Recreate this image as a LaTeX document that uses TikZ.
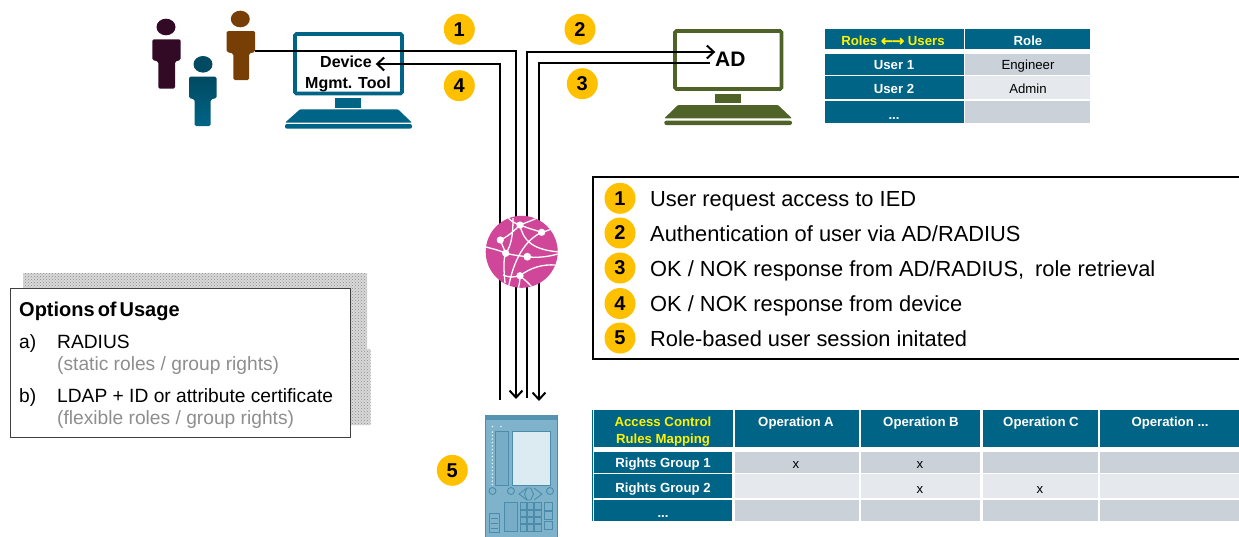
\documentclass[tikz,border=0pt]{standalone}
\usepackage{fontspec}
\setmainfont{Liberation Sans}
\newfontfamily\symfont[FakeBold=2]{DejaVu Sans}
\usetikzlibrary{arrows.meta,patterns,shapes.geometric}
\definecolor{teal0}{HTML}{006487}
\definecolor{tealtop}{HTML}{014A62}
\definecolor{brownP}{HTML}{773F06}
\definecolor{plumP}{HTML}{330A26}
\definecolor{oliveM}{HTML}{4F6228}
\definecolor{amber}{HTML}{FFC000}
\definecolor{pinkG}{HTML}{D0479A}
\definecolor{cellA}{HTML}{CAD1D8}
\definecolor{cellB}{HTML}{E5E8EC}
\definecolor{grayT}{HTML}{8E8E8E}
\definecolor{devA}{HTML}{7FB3CB}
\definecolor{devB}{HTML}{4A8CAA}
\definecolor{devC}{HTML}{DCEAF2}
\newcommand\fs[1]{\fontsize{#1}{#1}\selectfont}
\tikzset{
  wire/.style={line width=2pt,black},
  wirearrow/.style={wire,-{Straight Barb[length=7pt,width=13pt,line width=2pt]}},
  badge/.style={circle,fill=amber,minimum size=31pt,inner sep=0pt,font=\fs{20}\bfseries},
  thead/.style={anchor=mid,inner sep=0pt,text=white,font=\fs{13.2}\bfseries},
  tyellow/.style={thead,text=yellow},
  tbody/.style={anchor=mid,inner sep=0pt,text=black,font=\fs{13.2}},
  legtext/.style={anchor=mid west,inner sep=0pt,font=\fs{21.85}},
  opttext/.style={anchor=mid west,inner sep=0pt,font=\fs{19.2}},
  optgray/.style={opttext,text=grayT},
  devline/.style={draw=devB,line width=0.9pt},
}
% name, x0, y0, x1, y1, fill colour
\newcommand\cell[6]{\fill[#6] (#2,#3) rectangle (#4,#5); \coordinate (#1) at ({(#2+#4)/2},{(#3+#5)/2});}
\begin{document}
\begin{tikzpicture}[x=1pt,y=-1pt]
\useasboundingbox (0,0) rectangle (1239,536);

% people
\fill[plumP] (166,27) ellipse (9.5 and 8.3);
\fill[plumP,rounded corners=1.5pt] (152.3,39.3) -- (180.7,39.3) -- (180.7,60) -- (175,61.5) -- (175,88.7) -- (158.3,88.7) -- (158.3,61.5) -- (152.3,60) -- cycle;
\fill[tealtop] (203,64.3) ellipse (9.5 and 8.3);
\shade[top color=tealtop,bottom color=teal0,rounded corners=1.5pt] (189,76.7) -- (216.7,76.7) -- (216.7,98) -- (210.7,99.5) -- (210.7,126) -- (194.7,126) -- (194.7,99.5) -- (189,98) -- cycle;
\fill[brownP] (240.3,19) ellipse (9.5 and 8.3);
\fill[brownP,rounded corners=1.5pt] (226.7,31) -- (255,31) -- (255,52) -- (249,53.5) -- (249,80) -- (233.3,80) -- (233.3,53.5) -- (226.7,52) -- cycle;

% device management tool monitor
\draw[teal0,line width=3.6pt,rounded corners=1.5pt] (295,34) rectangle (402,93.5);
\fill[teal0] (335,97.7) rectangle (361,107.7);
\fill[teal0,rounded corners=1pt] (300,109.3) -- (398,109.3) -- (412,122.7) -- (285,122.7) -- cycle;
\fill[teal0,rounded corners=2pt] (285,124) rectangle (412,128.7);
\node[anchor=mid,inner sep=0pt,font=\fs{16}\bfseries] (dev1) at (346,65) {Device};
\node[anchor=mid,inner sep=0pt,font=\fs{16}\bfseries] (dev2) at (348,86) {Mgmt. Tool};

% AD monitor
\draw[oliveM,line width=3.6pt,rounded corners=1.5pt] (675,31) rectangle (781.5,89);
\fill[oliveM] (715,94) rectangle (741,102.7);
\fill[oliveM,rounded corners=1pt] (678,105) -- (778,105) -- (792,118.3) -- (664.3,118.3) -- cycle;
\fill[oliveM,rounded corners=2pt] (664.3,120.7) rectangle (792,125);
\node[anchor=mid west,inner sep=0pt,font=\fs{21}\bfseries] (adlabel) at (715,64) {AD};

% connector ends
\node[inner sep=0pt,minimum width=28pt,minimum height=2pt] (userC) at (241,51) {};
\node[inner sep=0pt] (toolEnd) at (375,64) {};
\node[inner sep=0pt] (adIn) at (716,52) {};
\node[inner sep=0pt] (adOut) at (711,63) {};
\coordinate (e1) at (516,399);
\coordinate (s4) at (499.5,400);
\coordinate (s2) at (526.5,398);
\coordinate (e3) at (539,401);

% wires
\draw[wirearrow] (userC.east) -| (e1);
\draw[wirearrow] (s4) |- (toolEnd);
\draw[wirearrow] (s2) |- (adIn);
\draw[wirearrow] (adOut) -| (e3);

% badges
\node[badge] (b1) at (459.3,29.3) {1};
\node[badge] (b2) at (580,29.3) {2};
\node[badge] (b4) at (459.3,85.7) {4};
\node[badge] (b3) at (582.3,83.7) {3};
\node[badge] (b5) at (452.3,470.3) {5};

% roles table
\cell{r00}{825}{29}{964}{49}{teal0}
\cell{r01}{965}{29}{1090}{49}{teal0}
\cell{r10}{825}{54}{964}{75}{teal0}
\cell{r11}{965}{54}{1090}{75}{cellA}
\cell{r20}{825}{76}{964}{99}{teal0}
\cell{r21}{965}{76}{1090}{99}{cellB}
\cell{r30}{825}{101}{964}{123}{teal0}
\cell{r31}{965}{101}{1090}{123}{cellA}
\node[tyellow] (t00) at (893,43) {Roles {\symfont\fs{14.5}←\kern-1pt→} Users};
\node[thead] (t01) at (1028,43) {Role};
\node[thead] (t10) at (894,67) {User 1};
\node[tbody] (t11) at (1028,67) {Engineer};
\node[thead] (t20) at (894,91) {User 2};
\node[tbody] (t21) at (1028,91) {Admin};
\node[thead] (t30) at (894,117) {...};

% legend box
\draw[black,line width=2pt] (1239,177) -- (592.5,177) -- (592.5,359) -- (1239,359);
\node[badge] (l1) at (620,198.3) {1};
\node[badge] (l2) at (620,233) {2};
\node[badge] (l3) at (620,268) {3};
\node[badge] (l4) at (620,303.5) {4};
\node[badge] (l5) at (620,338) {5};
\node[legtext] (lt1) at (650,204) {User request access to IED};
\node[legtext] (lt2) at (650,239) {Authentication of user via AD/RADIUS};
\node[legtext] (lt3) at (650,273.5) {OK / NOK response from AD/RADIUS,\enspace role retrieval};
\node[legtext] (lt4) at (650,309) {OK / NOK response from device};
\node[legtext] (lt5) at (650,343.5) {Role-based user session initated};

% options box
\fill[black!15] (23,273) -- (367,273) -- (367,349) -- (370.7,349) -- (370.7,425) -- (351,425) -- (351,289) -- (23,289) -- cycle;
\fill[pattern=crosshatch dots,pattern color=black!45] (23,273) -- (367,273) -- (367,349) -- (370.7,349) -- (370.7,425) -- (351,425) -- (351,289) -- (23,289) -- cycle;
\draw[black!75,line width=1pt,fill=white] (10.5,288.5) rectangle (350.7,437.7);
\node[anchor=mid west,inner sep=0pt,font=\fs{20}\bfseries] (optT) at (19,314) {\spaceskip=3pt Options of Usage};
\node[opttext] (oa) at (19,345.5) {a)};
\node[opttext] (oaa) at (57,345.5) {RADIUS};
\node[optgray] (oab) at (57,367.5) {(static roles / group rights)};
\node[opttext] (ob) at (19,399.5) {b)};
\node[opttext] (oba) at (57,399.5) {LDAP + ID or attribute certificate};
\node[optgray] (obb) at (57,421.5) {(flexible roles / group rights)};

% globe
\node[circle,fill=pinkG,minimum size=72pt,inner sep=0pt] (globe) at (521.7,251.8) {};
\begin{scope}
\clip (521.7,251.8) circle (36);
\draw[white,line width=1.3pt]
  (505,214) .. controls (510,221) and (514,223) .. (520,225)
  (520,225) .. controls (530,221) and (536,219) .. (545,214)
  (520,225) .. controls (530,229) and (535,230) .. (541.7,232.3)
  (541.7,232.3) .. controls (547,231) and (552,229) .. (557,226)
  (500.3,240) .. controls (507,237) and (513,232) .. (520,225)
  (520,225) .. controls (523,240) and (532,250) .. (560,252)
  (505.7,253.3) .. controls (512,245) and (513,232) .. (513,218)
  (500.3,240) -- (505.7,253.3)
  (486,247) .. controls (493,249) and (499,250) .. (505.7,253.3)
  (505.7,253.3) .. controls (513,255) and (520,256) .. (527.3,256.7)
  (527.3,256.7) .. controls (537,258) and (547,257) .. (558,254)
  (505.7,253.3) .. controls (503,260) and (504,272) .. (505,283)
  (541.7,232.3) .. controls (525,240) and (513,260) .. (508,290)
  (520,275.7) .. controls (530,268) and (542,264) .. (556,265)
  (520,275.7) .. controls (520,282) and (519,285) .. (518,290)
  (520,275.7) .. controls (526,281) and (530,284) .. (534,290)
  (503,275) .. controls (510,278) and (515,277) .. (520,275.7);
\end{scope}
\foreach \p in {(520,225),(541.7,232.3),(500.3,240),(505.7,253.3),(520,275.7)}{\fill[white] \p circle (3.6);}
\fill[white] (527.3,256.7) circle (3.9);

% IED device
\node[draw=devB,fill=devA,line width=1pt,minimum width=72pt,minimum height=122pt,inner sep=0pt,anchor=north west] (ied) at (484.5,414.5) {};
\fill[devB!80!devA] (484.5,414.5) rectangle (556.5,420);
\draw[devline,fill=devA!85!devB] (495,431) rectangle (508.7,485);
\draw[devline,fill=devC] (512,431) rectangle (550,485);
\foreach \x in {492.5,501}{\fill[white!80!devA] (\x,426.5) circle (0.9);}
\foreach \y in {432,435.5,...,485}{\fill[white!85!devA] (492.3,\y) circle (0.8);}
\foreach \x in {492.5,511,550}{\draw[devline] (\x,491) circle (3.5);}
\draw[devline] (527,488) -- (530.7,488) -- (533.5,494) -- (530.7,500) -- (527,500) -- (524.5,494) -- cycle;
\draw[devline] (527,488) -- (519,494) -- (527,500);
\draw[devline] (534,488) -- (542,494) -- (534,500);
\draw[devline,fill=devA!85!devB] (504.7,502.3) rectangle (517.7,531.7);
\foreach \i in {0,1,2}{\foreach \j in {0,1,2,3}{
  \draw[devline,fill=devA!85!devB] ({520+\i*7.4},{502.7+\j*7.4}) rectangle +(6.3,6.3);}}
\foreach \y in {502.5,511.5,521}{\draw[devline] (544.3,\y) rectangle +(8.4,8);}
\draw[devline] (489.3,513) rectangle (499,532.7);
\foreach \y in {518,523,528}{\draw[devline] (490.5,\y) -- (498,\y);}

% access control table
\fill[teal0] (592,410) rectangle (593,521);
\cell{h0}{594}{410}{733}{446.7}{teal0}
\cell{h1}{735}{410}{859}{446.7}{teal0}
\cell{h2}{861}{410}{980}{446.7}{teal0}
\cell{h3}{982.5}{410}{1098}{446.7}{teal0}
\cell{h4}{1100.4}{410}{1239}{446.7}{teal0}
\cell{a0}{594}{452}{732}{473}{teal0}
\cell{a1}{735}{452}{859}{473}{cellA}
\cell{a2}{861}{452}{980}{473}{cellA}
\cell{a3}{982.5}{452}{1098}{473}{cellA}
\cell{a4}{1100.4}{452}{1239}{473}{cellA}
\cell{b0}{594}{474.3}{732}{497.7}{teal0}
\cell{b1}{735}{474.3}{859}{497.7}{cellB}
\cell{b2}{861}{474.3}{980}{497.7}{cellB}
\cell{b3}{982.5}{474.3}{1098}{497.7}{cellB}
\cell{b4}{1100.4}{474.3}{1239}{497.7}{cellB}
\cell{d0}{594}{500}{732}{520.7}{teal0}
\cell{d1}{735}{500}{859}{520.7}{cellA}
\cell{d2}{861}{500}{980}{520.7}{cellA}
\cell{d3}{982.5}{500}{1098}{520.7}{cellA}
\cell{d4}{1100.4}{500}{1239}{520.7}{cellA}
\node[tyellow] (ha1) at (663,424) {Access Control};
\node[tyellow] (ha2) at (663,441) {Rules Mapping};
\node[thead] (hb) at (796,424) {Operation A};
\node[thead] (hc) at (921,424) {Operation B};
\node[thead] (hd) at (1041,424) {Operation C};
\node[thead] (he) at (1170,424) {Operation ...};
\node[thead] (ra) at (663,465) {Rights Group 1};
\node[thead] (rb) at (663,490) {Rights Group 2};
\node[thead] (rc) at (663,515) {...};
\node[tbody] (xa) at (796,466) {x};
\node[tbody] (xb) at (920,466) {x};
\node[tbody] (xc) at (920,491) {x};
\node[tbody] (xd) at (1040,491) {x};
\end{tikzpicture}
\end{document}
